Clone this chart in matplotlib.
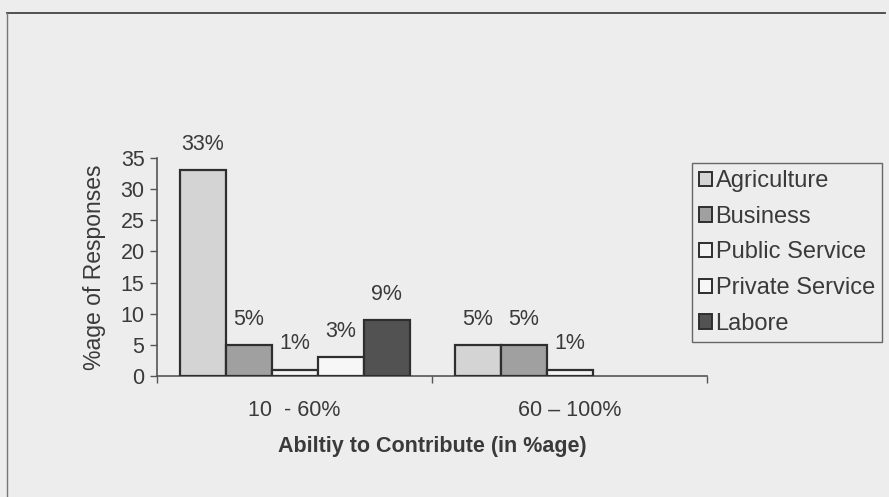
import matplotlib
matplotlib.use("Agg")
import matplotlib.pyplot as plt
from matplotlib.lines import Line2D
import numpy as np

plt.rcParams['font.family'] = ['Liberation Sans', 'DejaVu Sans']

# Data
categories = ["10  - 60%", "60 \u2013 100%"]
series = ["Agriculture", "Business", "Public Service", "Private Service", "Labore"]
values = {
    "Agriculture":     [33, 5],
    "Business":        [5, 5],
    "Public Service":  [1, 1],
    "Private Service": [3, 0],
    "Labore":          [9, 0],
}
fills = {
    "Agriculture":     "#d4d4d4",
    "Business":        "#a0a0a0",
    "Public Service":  "#f3f3f3",
    "Private Service": "#f7f7f7",
    "Labore":          "#525252",
}
yticks = [0, 5, 10, 15, 20, 25, 30, 35]

bg = "#ededed"
txt = "#3a3a3a"
W, H = 889, 497
fig = plt.figure(figsize=(W / 100, H / 100), dpi=100, facecolor=bg)
ax = fig.add_axes([157 / W, 1 - 376 / H, (707 - 157) / W, (376 - 158) / H])
ax.set_facecolor(bg)

centers = np.arange(len(categories)) + 0.5
bw = 46 / 275
n = len(series)
for i, s in enumerate(series):
    xs = centers + (i - (n - 1) / 2) * bw
    vals = values[s]
    for x, v in zip(xs, vals):
        if v <= 0:
            continue
        ax.bar(x, v, width=bw, color=fills[s], edgecolor="#2e2e2e", linewidth=1.6, zorder=3)
        ax.annotate(f"{v}%", (x, v), xytext=(0, 11), textcoords="offset points",
                    ha="center", va="bottom", fontsize=15.5, color=txt)

ax.set_xlim(0, len(categories))
ax.set_ylim(0, 35)
ax.set_yticks(yticks)
ax.tick_params(axis="y", labelsize=15.5, colors=txt, length=5, width=1, direction="out", pad=4)
ax.tick_params(axis="y", color="#555555")
ax.set_xticks(centers)
ax.set_xticklabels(categories)
ax.set_xticks(np.arange(len(categories) + 1), minor=True)
ax.tick_params(axis="x", which="major", length=0, labelsize=15.5, colors=txt, pad=17)
ax.tick_params(axis="x", which="minor", length=5, width=1, color="#555555", direction="out")

for sp in ["top", "right"]:
    ax.spines[sp].set_visible(False)
for sp in ["left", "bottom"]:
    ax.spines[sp].set_color("#555555")
    ax.spines[sp].set_linewidth(1.2)

ax.set_ylabel("%age of Responses", fontsize=16.5, color=txt, labelpad=10)
ax.set_xlabel("Abiltiy to Contribute (in %age)", fontsize=15.5, fontweight="bold",
              color=txt, labelpad=11)

handles = [plt.Rectangle((0, 0), 1, 1, facecolor=fills[s], edgecolor="#2e2e2e", linewidth=1.4)
           for s in series]
leg = fig.legend(handles, series, loc="upper left", bbox_to_anchor=(692 / W, 1 - 163 / H),
                 bbox_transform=fig.transFigure, fontsize=17, frameon=True, fancybox=False,
                 borderaxespad=0, handlelength=0.55, handleheight=0.55, handletextpad=0.15,
                 labelspacing=0.58, borderpad=0.3, labelcolor=txt)
leg.get_frame().set_edgecolor("#444444")
leg.get_frame().set_facecolor(bg)
leg.get_frame().set_linewidth(1.0)

# Outer frame lines (top and left)
fig.add_artist(Line2D([7 / W, 885 / W], [1 - 13 / H, 1 - 13 / H], transform=fig.transFigure,
                      color="#444444", linewidth=1.3))
fig.add_artist(Line2D([7 / W, 7 / W], [1 - 13 / H, 0], transform=fig.transFigure,
                      color="#777777", linewidth=1.0))

fig.savefig("out.png", dpi=100, facecolor=bg)
